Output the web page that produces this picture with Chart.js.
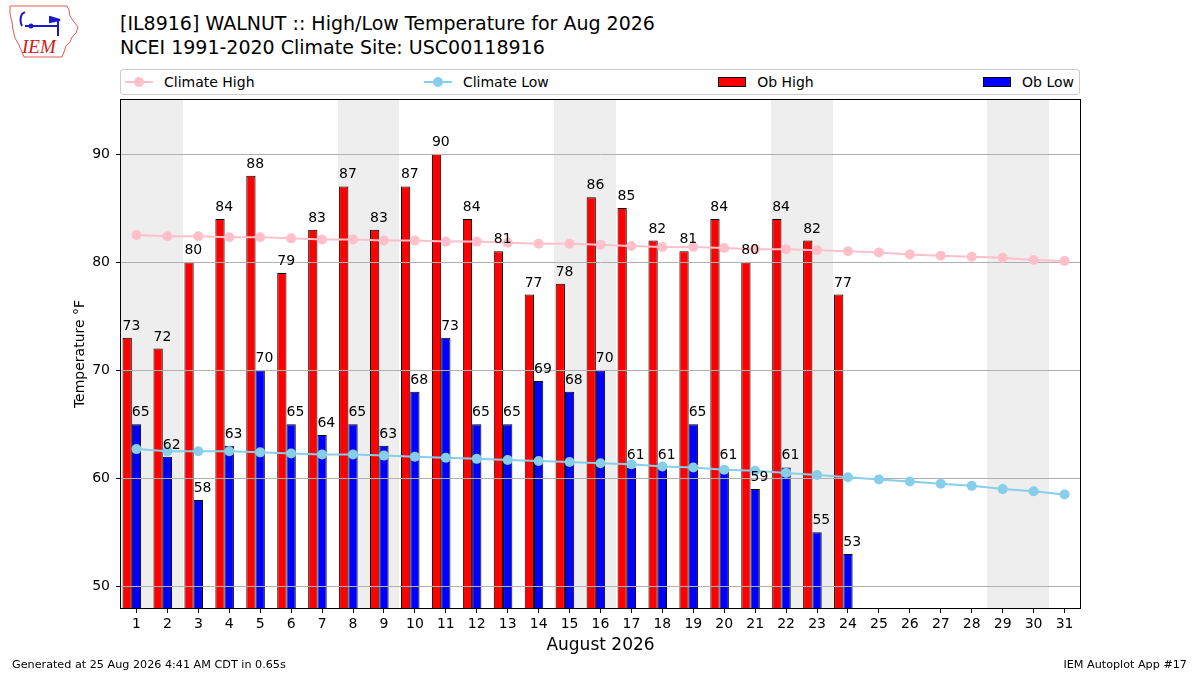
<!DOCTYPE html>
<html>
<head>
<meta charset="utf-8">
<title>WALNUT High/Low Temperature Aug 2026</title>
<script src="https://cdn.jsdelivr.net/npm/chart.js@4.4.1/dist/chart.umd.min.js"></script>
<style>
  html, body { margin: 0; padding: 0; background: #fff; }
  body { width: 1200px; height: 675px; position: relative; overflow: hidden; font-family: "DejaVu Sans", sans-serif; color: #000; }
  #chartCanvas { position: absolute; left: 0; top: 0; }
  .txt { position: absolute; white-space: nowrap; line-height: 1; }
  .title { font-size: 19px; left: 120px; }
  .footer { font-size: 11.2px; top: 659px; }
  #legend {
    position: absolute; left: 120px; top: 69px; width: 949px; height: 24px;
    border: 1px solid #cccccc; border-radius: 3px; background: #fff;
    display: flex; justify-content: space-between; align-items: center;
    padding: 0 5px 0 4px; font-size: 14px;
  }
  .item { display: flex; align-items: center; }
  .mark { width: 28px; height: 10px; margin-right: 11px; position: relative; }
  .mark.line::before { content: ""; position: absolute; left: 0; right: 0; top: 4px; height: 2px; background: var(--c); }
  .mark.line::after { content: ""; position: absolute; left: 9px; top: 0; width: 10px; height: 10px; border-radius: 50%; background: var(--c); }
  .mark.patch { background: var(--c); border: 1px solid #000; box-sizing: border-box; }
</style>
</head>
<body>
<svg id="logo" width="90" height="62" style="position:absolute;left:0;top:0">
  <path d="M10,6 L67,6 L69,10 L70,16 L74,22 L78,27 L76,33 L72,37 L70,42 L66,46 L64,52 L62,57 L24,57 L22,52 L19,45 L15,38 L13,30 L12,22 L10,14 Z"
        fill="none" stroke="#e05a5a" stroke-width="1"/>
  <g stroke="#1a1ac8" stroke-width="2" fill="none">
    <path d="M25,26 L59,26"/>
    <path d="M22,26 Q19,20 22,14 L25,12"/>
    <path d="M58,20 L58,36"/>
    <path d="M50,17 L60,20 L50,22 Z" fill="#1a1ac8"/>
  </g>
  <circle cx="31" cy="26" r="2.5" fill="#1a1ac8"/>
  <text x="22" y="53" font-family="Liberation Serif, serif" font-style="italic" font-size="19" fill="#d01818">IEM</text>
</svg>
<div class="txt title" style="top:14px">[IL8916] WALNUT :: High/Low Temperature for Aug 2026</div>
<div class="txt title" style="top:38px">NCEI 1991-2020 Climate Site: USC00118916</div>
<div id="legend">
  <div class="item"><span class="mark line" style="--c:#ffc0cb"></span>Climate High</div>
  <div class="item"><span class="mark line" style="--c:#87ceeb"></span>Climate Low</div>
  <div class="item"><span class="mark patch" style="--c:#ff0000"></span>Ob High</div>
  <div class="item"><span class="mark patch" style="--c:#0000ff"></span>Ob Low</div>
</div>
<canvas id="chartCanvas" width="1200" height="675"></canvas>
<div class="txt footer" style="left:12px">Generated at 25 Aug 2026 4:41 AM CDT in 0.65s</div>
<div class="txt footer" style="right:13px">IEM Autoplot App #17</div>

<script>
// days of the month, observed values stop on the 24th
const days = ["1","2","3","4","5","6","7","8","9","10","11","12","13","14","15","16",
  "17","18","19","20","21","22","23","24","25","26","27","28","29","30","31"];
const obHigh = [73, 72, 80, 84, 88, 79, 83, 87, 83, 87, 90, 84, 81, 77, 78, 86, 85, 82, 81, 84, 80, 84, 82, 77];
const obLow = [65, 62, 58, 63, 70, 65, 64, 65, 63, 68, 73, 65, 65, 69, 68, 70, 61, 61, 65, 61, 59, 61, 55, 53];
const climateHigh = [82.5, 82.4, 82.4, 82.3, 82.3, 82.2, 82.1, 82.1, 82.0, 82.0, 81.9, 81.9, 81.8, 81.7, 81.7, 81.6,
  81.5, 81.4, 81.4, 81.3, 81.2, 81.2, 81.1, 81.0, 80.9, 80.7, 80.6, 80.5, 80.4, 80.2, 80.1];
const climateLow = [62.7, 62.5, 62.5, 62.5, 62.4, 62.3, 62.2, 62.2, 62.1, 62.0, 61.9, 61.8, 61.7, 61.6, 61.5, 61.4,
  61.3, 61.1, 61.0, 60.8, 60.7, 60.5, 60.3, 60.1, 59.9, 59.7, 59.5, 59.3, 59.0, 58.8, 58.5];
const yTicks = [50, 60, 70, 80, 90];
const weekendDays = [1, 2, 8, 9, 15, 16, 22, 23, 29, 30];

Chart.defaults.font.family = "'DejaVu Sans', sans-serif";
Chart.defaults.color = "#000";

// grey bands behind saturdays and sundays
const weekendPlugin = {
  id: "weekend",
  beforeDatasetsDraw(chart) {
    const { ctx, chartArea, scales } = chart;
    const x = scales.x;
    const half = (x.getPixelForValue(1) - x.getPixelForValue(0)) / 2;
    ctx.save();
    ctx.fillStyle = "#eeeeee";
    weekendDays.forEach(d => {
      const xc = x.getPixelForValue(d - 1);
      const x0 = Math.round(xc - half), x1 = Math.round(xc + half);
      ctx.fillRect(x0, chartArea.top, x1 - x0, chartArea.bottom - chartArea.top);
    });
    ctx.restore();
    chart.$gridDone = false;
  },
  // gridlines go over the bars but under the climate lines
  beforeDatasetDraw(chart, args) {
    if (args.meta.type !== "line" || chart.$gridDone) return;
    chart.$gridDone = true;
    const { ctx, chartArea, scales } = chart;
    ctx.save();
    ctx.strokeStyle = "#b0b0b0";
    ctx.lineWidth = 1;
    yTicks.forEach(v => {
      const y = Math.round(scales.y.getPixelForValue(v)) + 0.5;
      ctx.beginPath();
      ctx.moveTo(chartArea.left, y);
      ctx.lineTo(chartArea.right, y);
      ctx.stroke();
    });
    ctx.restore();
  },
  afterDatasetsDraw(chart) {
    const { ctx, chartArea } = chart;
    ctx.save();
    ctx.strokeStyle = "#000";
    ctx.lineWidth = 1;
    ctx.strokeRect(chartArea.left - 0.5, chartArea.top - 0.5,
      chartArea.right - chartArea.left + 1, chartArea.bottom - chartArea.top + 1);
    // value labels above the bars
    ctx.font = "14px 'DejaVu Sans'";
    ctx.fillStyle = "#000";
    ctx.textAlign = "left";
    ctx.textBaseline = "alphabetic";
    [0, 1].forEach(i => {
      const meta = chart.getDatasetMeta(i);
      const vals = chart.data.datasets[i].data;
      meta.data.forEach((bar, j) => {
        if (vals[j] == null) return;
        ctx.fillText(String(vals[j]), bar.x - bar.width / 2, bar.y - 8);
      });
    });
    ctx.restore();
  }
};

const ctx = document.getElementById("chartCanvas").getContext("2d");
new Chart(ctx, {
  type: "bar",
  data: {
    labels: days,
    datasets: [
      { label: "Ob High", data: obHigh, backgroundColor: "#ff0000", borderColor: "#000", borderWidth: 1, order: 2 },
      { label: "Ob Low", data: obLow, backgroundColor: "#0000ff", borderColor: "#000", borderWidth: 1, order: 2 },
      { label: "", data: [], order: 2 }, // empty slot so the pair sits left of the day tick
      { type: "line", label: "Climate High", data: climateHigh, borderColor: "#ffc0cb", backgroundColor: "#ffc0cb",
        borderWidth: 2, pointRadius: 5, pointBorderWidth: 0, tension: 0, order: 1 },
      { type: "line", label: "Climate Low", data: climateLow, borderColor: "#87ceeb", backgroundColor: "#87ceeb",
        borderWidth: 2, pointRadius: 5, pointBorderWidth: 0, tension: 0, order: 1 }
    ]
  },
  options: {
    responsive: false,
    animation: false,
    devicePixelRatio: 1,
    layout: { padding: { top: 100, right: 120, left: 0, bottom: 0 } },
    datasets: { bar: { categoryPercentage: 0.9, barPercentage: 1.0 } },
    plugins: { legend: { display: false }, tooltip: { enabled: false } },
    scales: {
      x: {
        type: "category",
        offset: true,
        grid: { offset: false, drawOnChartArea: false, drawTicks: true, tickLength: 5, tickColor: "#000" },
        border: { display: true, color: "#000" },
        ticks: { font: { size: 14 }, padding: 3, maxRotation: 0, autoSkip: false },
        title: { display: true, text: "August 2026", font: { size: 17 }, padding: { top: 0, bottom: 19 } },
        afterFit(scale) { scale.height = 67; }
      },
      y: {
        min: 48,
        max: 95,
        afterBuildTicks(scale) { scale.ticks = yTicks.map(v => ({ value: v })); },
        grid: { drawOnChartArea: false, drawTicks: true, tickLength: 5, tickColor: "#000" },
        border: { display: true, color: "#000" },
        ticks: { font: { size: 14 }, padding: 6 },
        title: { display: true, text: "Temperature °F", font: { size: 14 }, padding: { top: 72, bottom: 0 } },
        afterFit(scale) { scale.width = 121; }
      }
    }
  },
  plugins: [weekendPlugin]
});
</script>
</body>
</html>
